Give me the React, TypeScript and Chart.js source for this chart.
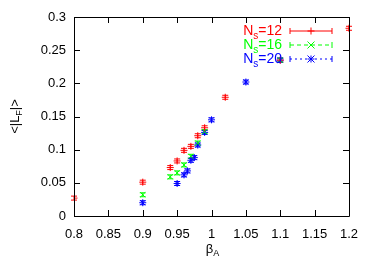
import React, { useEffect, useRef } from "react";
import { Chart, registerables } from "chart.js";

Chart.register(...registerables);

// ---- data ----
const betaNs12 = [0.8, 0.9, 0.94, 0.95, 0.96, 0.97, 0.98, 0.99, 1.02, 1.1, 1.2];
const lfNs12 = [0.027, 0.051, 0.073, 0.083, 0.099, 0.105, 0.121, 0.133, 0.179, 0.235, 0.283];
const errNs12 = [0.003, 0.003, 0.003, 0.003, 0.003, 0.003, 0.003, 0.003, 0.003, 0.003, 0.003];

const betaNs16 = [0.9, 0.94, 0.95, 0.96, 0.97, 0.98, 0.99, 1.1];
const lfNs16 = [0.032, 0.059, 0.065, 0.077, 0.09, 0.11, 0.127, 0.235];
const errNs16 = [0.003, 0.003, 0.003, 0.003, 0.003, 0.003, 0.003, 0.003];

const betaNs20 = [0.9, 0.95, 0.96, 0.965, 0.97, 0.975, 0.98, 0.99, 1.0, 1.05, 1.1];
const lfNs20 = [0.02, 0.049, 0.062, 0.068, 0.084, 0.088, 0.107, 0.126, 0.145, 0.202, 0.235];
const errNs20 = [0.003, 0.003, 0.003, 0.003, 0.003, 0.003, 0.003, 0.003, 0.003, 0.003, 0.003];

const seriesNames = ["12", "16", "20"];
const xTickValues = [0.8, 0.85, 0.9, 0.95, 1.0, 1.05, 1.1, 1.15, 1.2];
const xTickLabels = ["0.8", "0.85", "0.9", "0.95", "1", "1.05", "1.1", "1.15", "1.2"];
const yTickValues = [0, 0.05, 0.1, 0.15, 0.2, 0.25, 0.3];
const yTickLabels = ["0", "0.05", "0.1", "0.15", "0.2", "0.25", "0.3"];

const FONT = "'Liberation Sans', Arial, Helvetica, sans-serif";
const COLORS = ["#ff0000", "#00ff00", "#0000ff"];
const DASHES: number[][] = [[], [4, 3], [2, 3]];
const STYLES = ["cross", "crossRot", "star"];

function drawSubText(
  ctx: CanvasRenderingContext2D,
  parts: { t: string; sub?: boolean }[],
  x: number,
  y: number,
  align: "left" | "center" | "right",
  size: number
) {
  const subSize = Math.round(size * 0.7);
  let total = 0;
  const widths = parts.map((p) => {
    ctx.font = `${p.sub ? subSize : size}px ${FONT}`;
    const w = ctx.measureText(p.t).width;
    total += w;
    return w;
  });
  let cx = align === "left" ? x : align === "center" ? x - total / 2 : x - total;
  ctx.textAlign = "left";
  ctx.textBaseline = "middle";
  parts.forEach((p, i) => {
    ctx.font = `${p.sub ? subSize : size}px ${FONT}`;
    ctx.fillText(p.t, cx, p.sub ? y + size * 0.35 : y);
    cx += widths[i];
  });
}

const framePlugin = {
  id: "framePlugin",
  beforeDatasetsDraw(chart: any) {
    const ctx = chart.ctx as CanvasRenderingContext2D;
    const ys = chart.scales.y;
    chart.data.datasets.forEach((ds: any, i: number) => {
      const meta = chart.getDatasetMeta(i);
      ctx.save();
      ctx.strokeStyle = COLORS[i];
      ctx.lineWidth = 1;
      meta.data.forEach((pt: any, j: number) => {
        const v = ds.data[j].y;
        const e = ds.errors[j];
        const y1 = ys.getPixelForValue(v - e);
        const y2 = ys.getPixelForValue(v + e);
        const x = pt.x;
        ctx.beginPath();
        ctx.moveTo(x, y1);
        ctx.lineTo(x, y2);
        ctx.moveTo(x - 3, y1);
        ctx.lineTo(x + 3, y1);
        ctx.moveTo(x - 3, y2);
        ctx.lineTo(x + 3, y2);
        ctx.stroke();
      });
      ctx.restore();
    });
  },
  afterDraw(chart: any) {
    const ctx = chart.ctx as CanvasRenderingContext2D;
    const { left, right, top, bottom } = chart.chartArea;
    const xs = chart.scales.x;
    const ys = chart.scales.y;
    ctx.save();
    ctx.strokeStyle = "#000";
    ctx.lineWidth = 1;
    ctx.beginPath();
    ctx.rect(Math.round(left) + 0.5, Math.round(top) + 0.5, Math.round(right - left), Math.round(bottom - top));
    ctx.stroke();
    const tl = 6;
    ctx.beginPath();
    xTickValues.forEach((v) => {
      const x = Math.round(xs.getPixelForValue(v)) + 0.5;
      ctx.moveTo(x, bottom);
      ctx.lineTo(x, bottom - tl);
      ctx.moveTo(x, top);
      ctx.lineTo(x, top + tl);
    });
    yTickValues.forEach((v) => {
      const y = Math.round(ys.getPixelForValue(v)) + 0.5;
      ctx.moveTo(left, y);
      ctx.lineTo(left + tl, y);
      ctx.moveTo(right, y);
      ctx.lineTo(right - tl, y);
    });
    ctx.stroke();

    // axis titles
    ctx.fillStyle = "#000";
    drawSubText(ctx, [{ t: "β" }, { t: "A", sub: true }], (left + right) / 2 + 1, 249, "center", 13);
    ctx.save();
    ctx.translate(15, (top + bottom) / 2);
    ctx.rotate(-Math.PI / 2);
    drawSubText(ctx, [{ t: "<|L" }, { t: "F", sub: true }, { t: "|>" }], 0, 0, "center", 13);
    ctx.restore();

    // legend
    const rows = [31, 45, 59];
    seriesNames.forEach((n, i) => {
      const y = rows[i];
      ctx.fillStyle = COLORS[i];
      drawSubText(ctx, [{ t: "N" }, { t: "s", sub: true }, { t: "=" + n }], 282, y, "right", 14);
      ctx.strokeStyle = COLORS[i];
      ctx.lineWidth = 1;
      const x1 = 290, x2 = 332, yy = y;
      ctx.setLineDash(DASHES[i]);
      ctx.beginPath();
      ctx.moveTo(x1, yy);
      ctx.lineTo(x2, yy);
      ctx.stroke();
      ctx.setLineDash([]);
      ctx.beginPath();
      ctx.moveTo(x1, yy - 3);
      ctx.lineTo(x1, yy + 3);
      ctx.moveTo(x2, yy - 3);
      ctx.lineTo(x2, yy + 3);
      ctx.stroke();
      const cx = 311;
      const r = 3.5;
      ctx.beginPath();
      if (i === 0) {
        ctx.moveTo(cx - r, yy); ctx.lineTo(cx + r, yy);
        ctx.moveTo(cx, yy - r); ctx.lineTo(cx, yy + r);
      } else if (i === 1) {
        ctx.moveTo(cx - r, yy - r); ctx.lineTo(cx + r, yy + r);
        ctx.moveTo(cx - r, yy + r); ctx.lineTo(cx + r, yy - r);
      } else {
        ctx.moveTo(cx - r, yy); ctx.lineTo(cx + r, yy);
        ctx.moveTo(cx, yy - r); ctx.lineTo(cx, yy + r);
        ctx.moveTo(cx - r, yy - r); ctx.lineTo(cx + r, yy + r);
        ctx.moveTo(cx - r, yy + r); ctx.lineTo(cx + r, yy - r);
      }
      ctx.stroke();
    });
    ctx.restore();
  },
};

export default function App() {
  const ref = useRef<HTMLCanvasElement>(null);
  useEffect(() => {
    if (!ref.current) return;
    const mk = (bx: number[], ly: number[]) => bx.map((b, i) => ({ x: b, y: ly[i] }));
    const sets = [
      [betaNs12, lfNs12, errNs12],
      [betaNs16, lfNs16, errNs16],
      [betaNs20, lfNs20, errNs20],
    ];
    const chart = new Chart(ref.current, {
      type: "scatter",
      data: {
        datasets: sets.map((s, i) => ({
          label: "Ns=" + seriesNames[i],
          data: mk(s[0], s[1]),
          errors: s[2],
          pointStyle: STYLES[i],
          pointRadius: 3.5,
          pointBorderWidth: 1,
          borderColor: COLORS[i],
          backgroundColor: COLORS[i],
          showLine: false,
        })) as any,
      },
      options: {
        animation: false,
        responsive: false,
        devicePixelRatio: 1,
        layout: { padding: { left: 0, top: 17, right: 25, bottom: 0 } },
        plugins: { legend: { display: false }, tooltip: { enabled: false } },
        scales: {
          x: {
            type: "linear",
            min: 0.8,
            max: 1.2,
            grid: { display: false, drawTicks: false },
            border: { display: false },
            afterBuildTicks: (s: any) => { s.ticks = xTickValues.map((v) => ({ value: v })); },
            afterFit: (s: any) => { s.height = 46; },
            ticks: {
              padding: 11,
              color: "#000",
              font: { family: FONT, size: 13 },
              maxRotation: 0,
              autoSkip: false,
              callback: (v: any) => { const k = xTickValues.findIndex((t) => Math.abs(t - v) < 1e-9); return k >= 0 ? xTickLabels[k] : ""; },
            },
          },
          y: {
            type: "linear",
            min: 0,
            max: 0.3,
            grid: { display: false, drawTicks: false },
            border: { display: false },
            afterBuildTicks: (s: any) => { s.ticks = yTickValues.map((v) => ({ value: v })); },
            afterFit: (s: any) => { s.width = 74; },
            ticks: {
              padding: 8,
              color: "#000",
              font: { family: FONT, size: 13 },
              autoSkip: false,
              callback: (v: any) => { const k = yTickValues.findIndex((t) => Math.abs(t - v) < 1e-9); return k >= 0 ? yTickLabels[k] : ""; },
            },
          },
        },
      },
      plugins: [framePlugin],
    } as any);
    return () => chart.destroy();
  }, []);
  return (
    <div style={{ position: "fixed", left: 0, top: 0, width: 374, height: 262, background: "#fff" }}>
      <canvas ref={ref} width={374} height={262} style={{ width: 374, height: 262, display: "block" }} />
    </div>
  );
}
